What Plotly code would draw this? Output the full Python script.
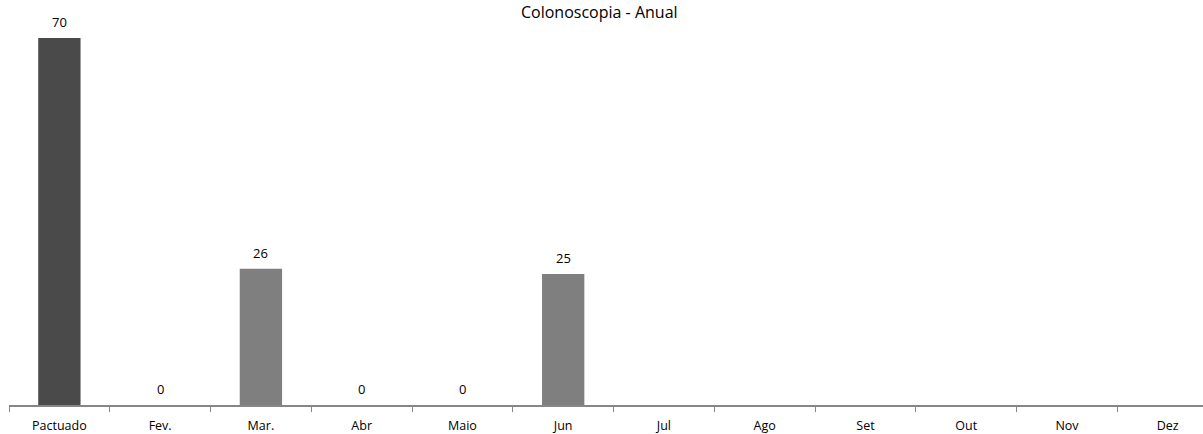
import plotly.graph_objects as go

categories = ["Pactuado", "Fev.", "Mar.", "Abr", "Maio", "Jun", "Jul", "Ago", "Set", "Out", "Nov", "Dez"]
values = [70, 0, 26, 0, 0, 25, None, None, None, None, None, None]
bar_colors = ["#4a4a4a"] + ["#7f7f7f"] * 11
title_text = "Colonoscopia - Anual"

font_family = "Open Sans, Lato, sans-serif"

fig = go.Figure()
fig.add_trace(go.Bar(
    x=categories,
    y=values,
    marker=dict(color=bar_colors, line=dict(width=0)),
    width=0.42,
    hoverinfo="x+y",
))

annotations = [dict(
    text=title_text, xref="paper", yref="paper", x=0.5, y=1,
    yanchor="middle", yshift=-12, xshift=-7, showarrow=False,
    font=dict(size=16, color="#000000", family=font_family),
)]
for c, v in zip(categories, values):
    if v is None:
        continue
    annotations.append(dict(
        x=c, y=v, xref="x", yref="y", text=str(v), showarrow=False,
        yanchor="middle", yshift=16,
        font=dict(size=13, color="#000000", family=font_family),
    ))

fig.update_layout(
    width=1203,
    height=434,
    margin=dict(l=9, r=0, t=0, b=29),
    plot_bgcolor="white",
    paper_bgcolor="white",
    showlegend=False,
    font=dict(family=font_family, size=12, color="#000000"),
    annotations=annotations,
)
fig.update_xaxes(
    type="category",
    range=[-0.5, 11.35],
    showline=True, linecolor="#868686", linewidth=1.5,
    ticks="outside", tickson="boundaries", ticklen=5, tickcolor="#868686",
    ticklabelstandoff=8,
    showgrid=False,
    tickfont=dict(size=12.5, color="#000000", family=font_family),
)
fig.update_yaxes(
    range=[0, 77.25],
    visible=False,
    showgrid=False,
    zeroline=False,
)

fig.write_html(
    "out.html",
    config={"displayModeBar": False},
    post_script="document.body.style.margin='0';document.body.style.padding='0';",
)
